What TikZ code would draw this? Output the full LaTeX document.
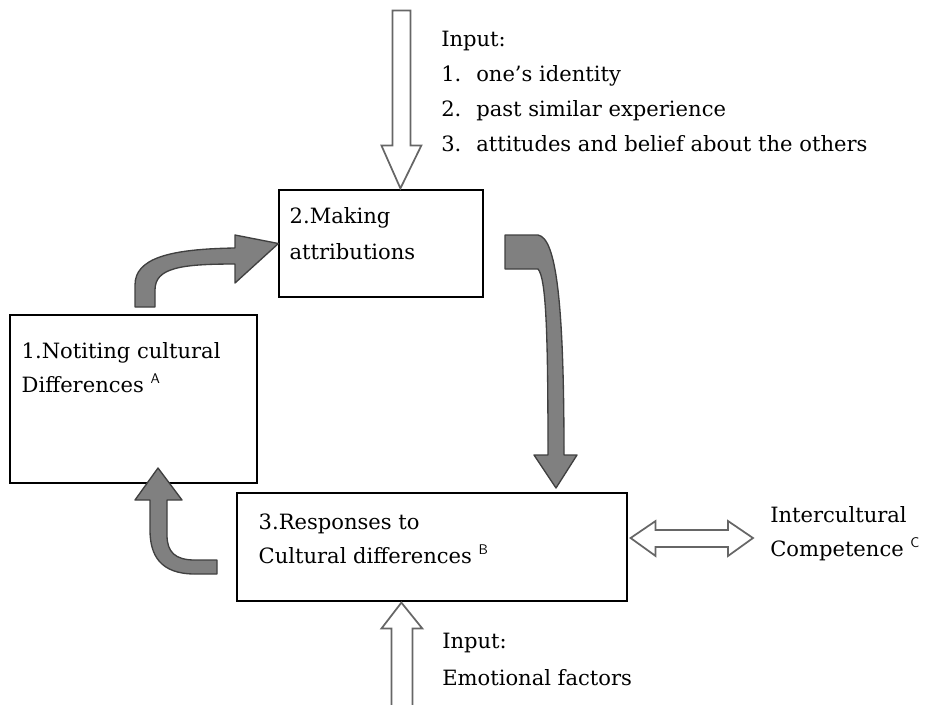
\documentclass[tikz,border=0pt]{standalone}
\usepackage{fontspec}
\setmainfont{DejaVu Serif}
\usetikzlibrary{calc}

\tikzset{
  stagebox/.style={shape=rectangle,draw=black,line width=0.9pt,inner sep=0pt},
  lbl/.style={anchor=base west,inner sep=0pt,font=\fontsize{15.8}{18}\selectfont},
  hollow/.style={draw=black!60,fill=white,line width=1.3pt,line join=miter},
  bent/.style={draw=black!75,fill=black!50,line width=1pt,line join=round},
}
\newcommand{\supl}[1]{\raisebox{0.8ex}{\fontsize{10.5}{10}\selectfont\sffamily #1}}

\begin{document}
\begin{tikzpicture}[x=0.75pt,y=-0.75pt]
\useasboundingbox (0,0) rectangle (927,704);

\node[stagebox,minimum width=153pt,minimum height=80.25pt] (box2) at (381,243.5) {};
\node[stagebox,minimum width=185.25pt,minimum height=126pt] (box1) at (133.5,399) {};
\node[stagebox,minimum width=292.5pt,minimum height=81pt] (box3) at (432,547) {};

\node[lbl] (t2a) at ($(box2.north west)+(11,34)$) {2.Making};
\node[lbl] (t2b) at ($(box2.north west)+(11,70)$) {attributions};
\node[lbl] (t1a) at ($(box1.north west)+(12,44)$) {1.Notiting cultural};
\node[lbl] (t1b) at ($(box1.north west)+(12,78)$) {Differences \supl{A}};
\node[lbl] (t3a) at ($(box3.north west)+(22,37)$) {3.Responses to};
\node[lbl] (t3b) at ($(box3.north west)+(22,71)$) {Cultural differences \supl{B}};
\node[lbl] (ic1) at (770,522) {Intercultural};
\node[lbl] (ic2) at (770,556) {Competence \supl{C}};

\node[lbl] (in1) at (441,46) {Input:};
\node[lbl] (n1) at (441,81) {1.};
\node[lbl] (n2) at (441,116) {2.};
\node[lbl] (n3) at (441,151) {3.};
\node[lbl] (i1) at (476,81) {one’s identity};
\node[lbl] (i2) at (476,116) {past similar experience};
\node[lbl] (i3) at (476,151) {attitudes and belief about the others};
\node[lbl] (in2) at (442,648) {Input:};
\node[lbl] (em) at (442,685) {Emotional factors};

% input arrows
\coordinate (topTip) at ($(box2.north west)+(122,-1)$);
\coordinate (botTip) at ($(box3.south west)+(165,1)$);
\draw[hollow] (topTip) -- ++(21,-43) -- ++(-11,0) -- ++(0,-135) -- ++(-18,0)
  -- ++(0,135) -- ++(-11,0) -- cycle;
\draw[hollow] (botTip) -- ++(21,26) -- ++(-10,0) -- ++(0,80) -- ++(-21,0)
  -- ++(0,-80) -- ++(-10,0) -- cycle;

% double arrow to competence
\coordinate (dl) at ($(box3.east)+(3,-9)$);
\coordinate (dr) at ($(ic1.base west)+(-17,16)$);
\draw[hollow] (dl) -- ++(25,-17) -- ++(0,9) -- ($(dr)+(-25,-8)$) -- ++(0,-9)
  -- (dr) -- ++(-25,18) -- ++(0,-9) -- ($(dl)+(25,9)$) -- ++(0,9) -- cycle;

% cycle arrows
\draw[bent] (135,307) -- (135,285) .. controls (135,258) and (170,249) .. (235,248)
  -- (235,235) -- (box2.west) -- (235,283) -- (235,264)
  .. controls (180,264) and (155,268) .. (155,290) -- (155,307) -- cycle;
\draw[bent] (505,235) -- (538,235) .. controls (556,238) and (564,300) .. (564,455)
  -- (577,455) -- (556,488) -- (534,455) -- (548,455)
  .. controls (548,330) and (546,278) .. (538,269) -- (505,269) -- cycle;
\draw[bent] (158,468) -- (182,500) -- (167,500) -- (167,535)
  .. controls (167,552) and (175,560) .. (195,560) -- (217,560) -- (217,574)
  -- (195,574) .. controls (160,574) and (150,555) .. (150,530)
  -- (150,500) -- (135,500) -- cycle;
\end{tikzpicture}
\end{document}
